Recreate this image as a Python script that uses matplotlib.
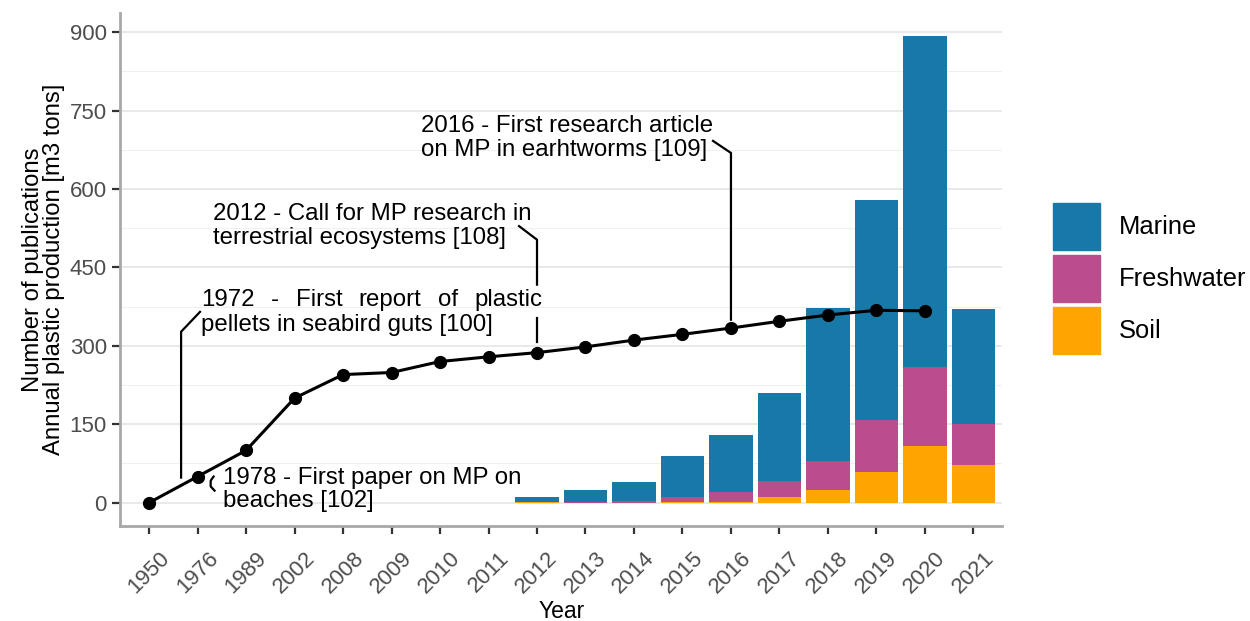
import matplotlib
matplotlib.use("Agg")
import matplotlib.pyplot as plt
from matplotlib.patches import Rectangle
import numpy as np

plt.rcParams['font.family'] = ['Liberation Sans', 'DejaVu Sans']

years = ['1950', '1976', '1989', '2002', '2008', '2009', '2010', '2011', '2012',
         '2013', '2014', '2015', '2016', '2017', '2018', '2019', '2020', '2021']
# annual plastic production [m3 tons]
production = [0, 50, 100, 200, 245, 249, 270, 279, 287, 298, 311, 322, 334,
              347, 359, 368, 367, np.nan]
# number of publications
marine = [0, 0, 0, 0, 0, 0, 0, 0, 8, 22, 36, 79, 109, 168, 293, 420, 632, 221]
freshwater = [0, 0, 0, 0, 0, 0, 0, 0, 1, 2, 4, 10, 18, 31, 54, 101, 151, 77]
soil = [0, 0, 0, 0, 0, 0, 0, 0, 1, 0, 0, 1, 2, 11, 25, 58, 109, 73]

series = ['Marine', 'Freshwater', 'Soil']
colors = ['#1879A8', '#BA4E8C', '#FFA502']

fig = plt.figure(figsize=(12.5, 6.21), dpi=100)
ax = fig.add_axes([0.096, 0.153, 0.706, 0.826])

x = np.arange(len(years))
soil = np.array(soil)
freshwater = np.array(freshwater)
marine = np.array(marine)
ax.bar(x, soil, width=0.9, color=colors[2], zorder=2)
ax.bar(x, freshwater, width=0.9, bottom=soil, color=colors[1], zorder=2)
ax.bar(x, marine, width=0.9, bottom=soil + freshwater, color=colors[0], zorder=2)

ax.plot(x, production, color='black', lw=2.2, marker='o', ms=8.5, zorder=4)

ax.set_xlim(-0.6, len(years) - 0.4)
ax.set_ylim(-44.6, 936.6)
ax.set_xticks(x)
ax.set_xticklabels(years, rotation=45, ha='center')
ax.set_yticks(range(0, 901, 150))
ax.set_yticks(range(75, 900, 150), minor=True)
ax.grid(axis='y', which='major', color='#E3E3E3', lw=1.1, zorder=0)
ax.grid(axis='y', which='minor', color='#F0F0F0', lw=0.8, zorder=0)
ax.set_axisbelow(True)
ax.tick_params(axis='both', which='major', length=5.5, width=1.6, color='#333333',
               labelcolor='#4D4D4D', labelsize=16)
ax.tick_params(axis='y', which='major', pad=4)
ax.tick_params(axis='x', which='major', pad=10)
ax.tick_params(axis='y', which='minor', length=0)
for s in ['top', 'right']:
    ax.spines[s].set_visible(False)
for s in ['left', 'bottom']:
    ax.spines[s].set_color('#A8A8A8')
    ax.spines[s].set_linewidth(2)

ax.set_xlabel('Year', fontsize=16.5, labelpad=2)
ax.set_ylabel('Number of publications\nAnnual plastic production [m3 tons]',
              fontsize=17.2, linespacing=0.95)
ax.yaxis.set_label_coords(-0.062, 0.5)

# annotations
fs = 17.3
lw = 1.6
ax.text(1.53, 25, '1978 - First paper on MP on\nbeaches [102]', fontsize=fs,
        va='center', ha='left', linespacing=1.1, zorder=5)
ax.plot([1.33, 1.27, 1.27, 1.35], [50, 42, 31, 23], color='black', lw=lw, zorder=3)

ax.text(1.32, 529, '2012 - Call for MP research in\nterrestrial ecosystems [108]',
        fontsize=fs, va='center', ha='left', linespacing=1.1, zorder=5)
i12 = years.index('2012')
ax.plot([i12, i12], [production[i12] + 21, 354], color='black', lw=lw, zorder=3)
ax.plot([i12, i12, 7.63], [417, 503, 529], color='black', lw=lw, zorder=3)

ax.text(5.61, 697, '2016 - First research article\non MP in earhtworms [109]',
        fontsize=fs, va='center', ha='left', linespacing=1.1, zorder=5)
i16 = years.index('2016')
ax.plot([i16, i16, 11.63], [production[i16] + 16, 669, 692], color='black', lw=lw, zorder=3)

# 1972 label, first line justified over a fixed width
ax.plot([0.66, 0.66, 1.05], [48, 327, 365], color='black', lw=lw, zorder=3)
ax.text(1.07, 340, 'pellets in seabird guts [100]', fontsize=fs, va='center',
        ha='left', zorder=5)
fig.canvas.draw()
r = fig.canvas.get_renderer()
words = '1972 - First report of plastic'.split()
wts = [ax.text(0, 0, w, fontsize=fs) for w in words]
widths = [t.get_window_extent(r).width for t in wts]
for t in wts:
    t.remove()
x_left = ax.transData.transform((1.07, 0))[0]
x_right = ax.transData.transform((8.12, 0))[0]
gap = (x_right - x_left - sum(widths)) / (len(words) - 1)
xp = x_left
inv = ax.transData.inverted()
for w, wd in zip(words, widths):
    xd = inv.transform((xp, 0))[0]
    ax.text(xd, 388, w, fontsize=fs, va='center', ha='left', zorder=5)
    xp += wd + gap

# legend drawn by hand: keys 47 px square, 52 px apart
W, H = 1250, 621
for i, (name, c) in enumerate(zip(series, colors)):
    top = 203 + 52 * i
    fig.add_artist(Rectangle((1053 / W, 1 - (top + 47) / H), 47 / W, 47 / H,
                             transform=fig.transFigure, color=c))
    fig.text(1119 / W, 1 - (top + 24) / H, name, fontsize=18.4, va='center',
             ha='left')

fig.savefig('out.png', dpi=100)
